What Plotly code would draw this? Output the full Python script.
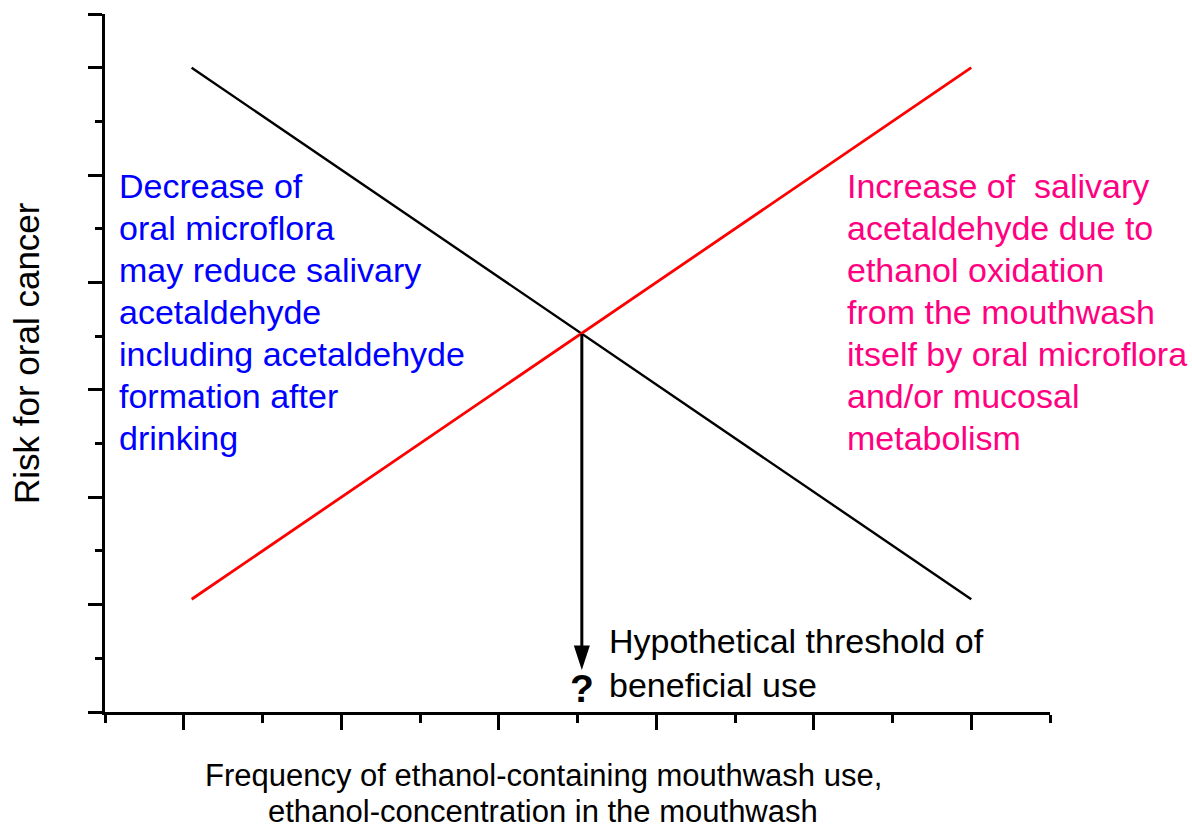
import plotly.graph_objects as go

# ---- data ----
x_ends = [1.1, 11.0]
black_y = [12.0, 2.1]
red_y = [2.1, 12.0]
cross_x = 6.055
cross_y = 7.04
arrow_tip_y = 0.78

x_major = [1, 3, 5, 7, 9, 11]
x_minor = [0, 2, 4, 6, 8, 10, 12]
y_major = [0, 2, 4, 6, 8, 10, 12, 13]
y_minor = [1, 3, 5, 7, 9, 11]

left_lines = ["Decrease of", "oral microflora", "may reduce salivary", "acetaldehyde",
              "including acetaldehyde", "formation after", "drinking"]
right_lines = ["Increase of\u00a0 salivary", "acetaldehyde due to", "ethanol oxidation",
               "from the mouthwash", "itself by oral microflora", "and/or mucosal", "metabolism"]
threshold_lines = ["Hypothetical threshold of", "beneficial use"]
x_title_lines = ["Frequency of ethanol-containing mouthwash use,",
                 "ethanol-concentration in the mouthwash"]
y_title = "Risk for oral cancer"

W, H = 1192, 830
L, R, T, B = 105, 1050, 14, 712
FONT = "Liberation Sans, Arial, sans-serif"


def px(xp):
    return (xp - L) / (R - L)


def py(yp):
    return (B - yp) / (B - T)


fig = go.Figure()
fig.add_trace(go.Scatter(x=x_ends, y=black_y, mode="lines",
                         line=dict(color="black", width=2.4), hoverinfo="skip"))
fig.add_trace(go.Scatter(x=x_ends, y=red_y, mode="lines",
                         line=dict(color="#ff0000", width=2.8), hoverinfo="skip"))
# arrow shaft
fig.add_trace(go.Scatter(x=[cross_x, cross_x], y=[cross_y, arrow_tip_y + 0.3], mode="lines",
                         line=dict(color="black", width=3), hoverinfo="skip"))
# arrow head
fig.add_trace(go.Scatter(x=[cross_x], y=[arrow_tip_y], mode="markers",
                         marker=dict(symbol="arrow", angle=180, size=26, color="black",
                                     line=dict(width=0)),
                         hoverinfo="skip"))

annotations = []
step = 42
for i, t in enumerate(left_lines):
    annotations.append(dict(text=t, x=px(117), y=py(186 + i * step), xref="paper", yref="paper",
                            xanchor="left", yanchor="middle", showarrow=False,
                            font=dict(family=FONT, size=34, color="#0000ff")))
for i, t in enumerate(right_lines):
    annotations.append(dict(text=t, x=px(845), y=py(186 + i * step), xref="paper", yref="paper",
                            xanchor="left", yanchor="middle", showarrow=False,
                            font=dict(family=FONT, size=34, color="#ff0080")))
for i, t in enumerate(threshold_lines):
    annotations.append(dict(text=t, x=px(607), y=py(641 + i * 44), xref="paper", yref="paper",
                            xanchor="left", yanchor="middle", showarrow=False,
                            font=dict(family=FONT, size=34, color="black")))
annotations.append(dict(text="<b>?</b>", x=px(582), y=py(688), xref="paper", yref="paper",
                        xanchor="center", yanchor="middle", showarrow=False,
                        font=dict(family=FONT, size=39, color="black")))
for i, t in enumerate(x_title_lines):
    annotations.append(dict(text=t, x=px(543), y=py(775 + i * 36), xref="paper", yref="paper",
                            xanchor="center", yanchor="middle", showarrow=False,
                            font=dict(family=FONT, size=31, color="black")))
annotations.append(dict(text=y_title, x=px(26), y=py(353), xref="paper", yref="paper",
                        xanchor="center", yanchor="middle", showarrow=False, textangle=-90,
                        font=dict(family=FONT, size=35, color="black")))

fig.update_layout(
    width=W, height=H,
    margin=dict(l=L, r=W - R, t=T, b=H - B, pad=0),
    paper_bgcolor="white", plot_bgcolor="white",
    showlegend=False,
    annotations=annotations,
    xaxis=dict(range=[0, 12], showgrid=False, zeroline=False, showline=True,
               linecolor="black", linewidth=3, ticks="outside", tickmode="array",
               tickvals=x_major, ticklen=15, tickwidth=3, tickcolor="black",
               showticklabels=False,
               minor=dict(tickmode="array", tickvals=x_minor, ticks="outside",
                          ticklen=8, tickwidth=3, tickcolor="black", showgrid=False)),
    yaxis=dict(range=[0, 13], showgrid=False, zeroline=False, showline=True,
               linecolor="black", linewidth=3, ticks="outside", tickmode="array",
               tickvals=y_major, ticklen=14, tickwidth=3, tickcolor="black",
               showticklabels=False,
               minor=dict(tickmode="array", tickvals=y_minor, ticks="outside",
                          ticklen=7, tickwidth=3, tickcolor="black", showgrid=False)),
)

fig.write_html(
    "out.html",
    config={"displayModeBar": False},
    post_script="document.body.style.margin='0';document.documentElement.style.overflow='hidden';",
)
